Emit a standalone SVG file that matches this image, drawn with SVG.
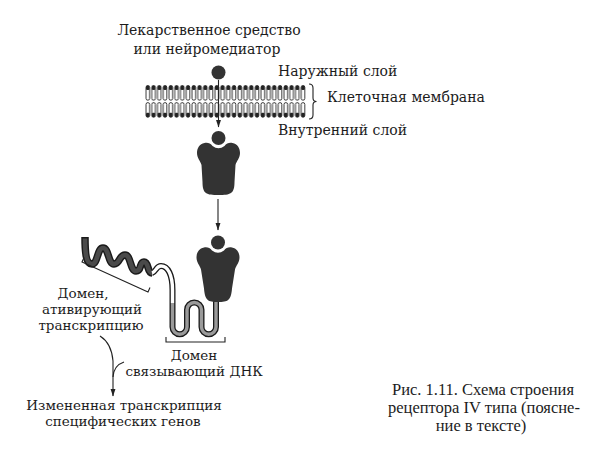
<svg xmlns="http://www.w3.org/2000/svg" width="602" height="450" viewBox="0 0 602 450">
<style>
text{font-family:"DejaVu Serif","Liberation Serif",serif;font-size:14px;fill:#1c1c1c}
.sm{font-size:13.5px}
.cap{font-family:"Liberation Serif","DejaVu Serif",serif;font-size:16.5px}
.c{text-anchor:middle}
.dark{fill:#333}
.ln{fill:none;stroke:#222;stroke-width:1.1}
.ol{fill:none;stroke:#1a1a1a;stroke-linecap:butt;stroke-linejoin:round}
</style>
<defs>
<marker id="ah" viewBox="0 0 8 6" refX="7.5" refY="3" markerWidth="8" markerHeight="6" markerUnits="userSpaceOnUse" orient="auto">
<path d="M0,0.4 L8,3 L0,5.6 Z" fill="#222"/>
</marker>
<pattern id="lip" width="5.75" height="33" patternUnits="userSpaceOnUse" x="145" y="85">
<rect x="1" y="0.6" width="3.6" height="14.6" rx="1.8" fill="#fff" stroke="#222" stroke-width="0.9"/>
<rect x="1" y="0.6" width="3.6" height="4.5" rx="1.4" fill="#222"/>
<rect x="1" y="17.6" width="3.6" height="14.6" rx="1.8" fill="#fff" stroke="#222" stroke-width="0.9"/>
<rect x="1" y="27.7" width="3.6" height="4.5" rx="1.4" fill="#222"/>
</pattern>
<path id="rec1" d="M-6,8 C-8,5 -11,4.5 -14,5 C-19,6 -21.5,10 -21.5,15 C-21.5,20 -18,23 -17,27 L-16,44 C-16,56 -12,57 0,57 C12,57 16,56 16,44 L17,27 C18,23 21.5,20 21.5,15 C21.5,10 19,6 14,5 C11,4.5 8,5 6,8 A10,10 0 0 1 -6,8 Z"/>
<path id="rec2" d="M-6,8 C-8,5 -11,4.5 -14,5 C-19,6 -21.5,10 -21.5,15 C-21.5,20 -18,23 -17,27 L-14,46 C-13,58 -10,59.5 0,59.5 C10,59.5 13,58 14,46 L17,27 C18,23 21.5,20 21.5,15 C21.5,10 19,6 14,5 C11,4.5 8,5 6,8 A10,10 0 0 1 -6,8 Z"/>
</defs>
<rect width="602" height="450" fill="#fff"/>

<g id="ligand-label">
<text class="c" x="209" y="35">Лекарственное средство</text>
<text class="c" x="207" y="54">или нейромедиатор</text>
</g>

<g id="ligand">
<circle cx="218.5" cy="72.5" r="7" class="dark"/>
</g>

<g id="membrane">
<rect x="145" y="85" width="161" height="33" fill="url(#lip)"/>
<path class="ln" d="M309,84 Q313,84 313,88 L313,98 Q313,101.5 316.5,101.5 Q313,101.5 313,105 L313,115 Q313,119 309,119"/>
<text x="278" y="75.5">Наружный слой</text>
<text x="327" y="102">Клеточная мембрана</text>
<text x="278" y="135">Внутренний слой</text>
</g>

<g id="receptor-inactive">
<circle cx="218.5" cy="138" r="7" class="dark"/>
<use href="#rec1" x="218.5" y="138" class="dark"/>
</g>

<g id="receptor-active">
<path class="ol" stroke-width="7.5" d="M85,237 C85,252 86,264 92,264 C98,264 97,248 103,248 C109,248 108,264 114,264 C120,264 119,255 125,255 C131,255 130,271 136,271 C142,271 139,262 144,262 C149,262 147,273 152,273"/>
<path class="ol" stroke-width="6" d="M152,273 C156,272 156,266 161,266 C168,266 172.5,275 172.5,290 L172.5,303"/>
<path class="ol" stroke-width="6" d="M172.5,303 L172.5,327 A7.25,7.25 0 0 0 187,327 L187,309.75 A7.25,7.25 0 0 1 201.5,309.75 L201.5,327 A7.25,7.25 0 0 0 216,327 L216,295"/>
<path fill="none" stroke="#4a4a4a" stroke-width="4.6" d="M85,238.5 C85,252 86,264 92,264 C98,264 97,248 103,248 C109,248 108,264 114,264 C120,264 119,255 125,255 C131,255 130,271 136,271 C142,271 139,262 144,262 C149,262 147,273 152,273"/>
<path fill="none" stroke="#fff" stroke-width="3.4" d="M152,273 C156,272 156,266 161,266 C168,266 172.5,275 172.5,290 L172.5,303"/>
<path fill="none" stroke="#9a9a9a" stroke-width="3.4" d="M172.5,303 L172.5,327 A7.25,7.25 0 0 0 187,327 L187,309.75 A7.25,7.25 0 0 1 201.5,309.75 L201.5,327 A7.25,7.25 0 0 0 216,327 L216,295"/>
<circle cx="218" cy="242.5" r="7" class="dark"/>
<use href="#rec2" x="218" y="242.5" class="dark"/>
</g>

<g id="activation-domain">
<path class="ln" d="M84,257.5 L82,262 L148,292 L150,287.5"/>
<text class="c sm" x="83" y="298">Домен,</text>
<text class="c sm" x="92" y="314">ативирующий</text>
<text class="c sm" x="91" y="330">транскрипцию</text>
</g>

<g id="dna-domain">
<path class="ln" d="M166,337 L166,342 L225,342 L225,337"/>
<text class="c sm" x="194" y="360">Домен</text>
<text class="c sm" x="194" y="376">связывающий ДНК</text>
</g>

<g id="result">
<text class="c sm" x="124" y="410">Измененная транскрипция</text>
<text class="c sm" x="123" y="426">специфических генов</text>
</g>

<g id="caption">
<text class="c cap" x="483" y="395">Рис. 1.11. Схема строения</text>
<text class="c cap" x="484" y="413">рецептора IV типа (поясне-</text>
<text class="c cap" x="481" y="431">ние в тексте)</text>
</g>

<g id="connectors" class="ln">
<path d="M218.5,80 L218.5,127" marker-end="url(#ah)"/>
<path d="M218,199 L218,230" marker-end="url(#ah)"/>
<path d="M100,336 C108,341 112,349 113,361 L113,396" marker-end="url(#ah)"/>
<path d="M124,362 C118,364 113.5,369 113,377"/>
</g>
</svg>
